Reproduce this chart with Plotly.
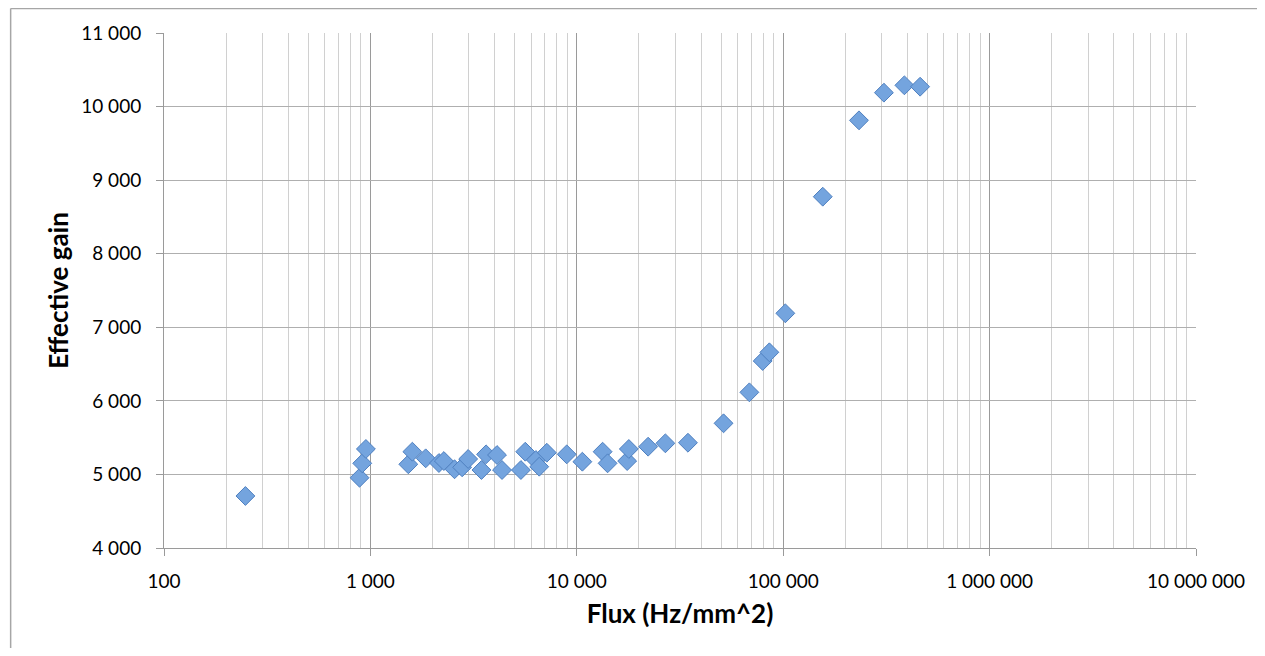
import plotly.graph_objects as go

flux = [248, 886, 913, 951, 1527, 1597, 1853, 2148, 2270, 2557, 2783, 2976,
        3452, 3634, 4106, 4342, 5361, 5627, 6334, 6577, 7158, 8937, 10640,
        13340, 14100, 17540, 17870, 22160, 26860, 34560, 51400, 68570, 79550,
        85700, 102400, 155500, 232900, 307600, 386500, 460600]
gain = [4707, 4955, 5151, 5346, 5138, 5309, 5219, 5155, 5182, 5070, 5097, 5210,
        5060, 5273, 5264, 5060, 5060, 5309, 5196, 5105, 5295, 5273, 5173,
        5309, 5151, 5182, 5346, 5377, 5423, 5431, 5695, 6116, 6542,
        6660, 7190, 8775, 9813, 10189, 10289, 10270]

x_ticks = [100, 1000, 10000, 100000, 1000000, 10000000]
x_ticktext = ["100", "1 000", "10 000", "100 000", "1 000 000", "10 000 000"]
y_ticks = [4000, 5000, 6000, 7000, 8000, 9000, 10000, 11000]
y_ticktext = ["4 000", "5 000", "6 000", "7 000", "8 000", "9 000", "10 000", "11 000"]
minor_x = [m * 10 ** e for e in range(2, 7) for m in range(2, 10)]

FONT = "Lato, Carlito, 'Liberation Sans', sans-serif"

fig = go.Figure()
fig.add_trace(go.Scatter(
    x=flux, y=gain, mode="markers",
    marker=dict(symbol="diamond", size=14.5, color="#74A4DE",
                line=dict(color="#4F80C0", width=1)),
    showlegend=False,
))

frame = dict(color="#A6A6A6", width=1.5)
fig.update_layout(
    width=1249, height=640,
    margin=dict(l=156, r=52, t=25, b=100),
    paper_bgcolor="white", plot_bgcolor="white",
    font=dict(family=FONT, size=19, color="#000000"),
    shapes=[
        dict(type="line", xref="paper", yref="paper",
             x0=-0.1486, x1=-0.1486, y0=-0.3, y1=1.0475, line=frame, layer="below"),
        dict(type="line", xref="paper", yref="paper",
             x0=-0.1486, x1=1.3, y0=1.0475, y1=1.0475, line=frame, layer="below"),
    ],
)

fig.update_xaxes(
    type="log", range=[2, 7],
    tickvals=x_ticks, ticktext=x_ticktext,
    showgrid=True, gridcolor="#9A9A9A", gridwidth=1,
    minor=dict(tickvals=minor_x, showgrid=True, gridcolor="#D0D0D0", gridwidth=1.3, ticks=""),
    ticks="outside", ticklen=7, tickcolor="#9A9A9A",
    showline=True, linecolor="#9A9A9A", linewidth=1,
    ticklabelstandoff=9,
    zeroline=False,
    title=dict(text="<b>Flux (Hz/mm^2)</b>", font=dict(family=FONT, size=26), standoff=14),
)
fig.update_yaxes(
    range=[4000, 11000],
    tickvals=y_ticks, ticktext=y_ticktext,
    showgrid=True, gridcolor="#AFAFAF", gridwidth=1.3,
    ticks="outside", ticklen=7, tickcolor="#9A9A9A",
    showline=True, linecolor="#9A9A9A", linewidth=1,
    ticklabelstandoff=11,
    zeroline=False,
    title=dict(text="<b>Effective gain</b>", font=dict(family=FONT, size=26), standoff=5),
)

fig.write_html("out.html")
